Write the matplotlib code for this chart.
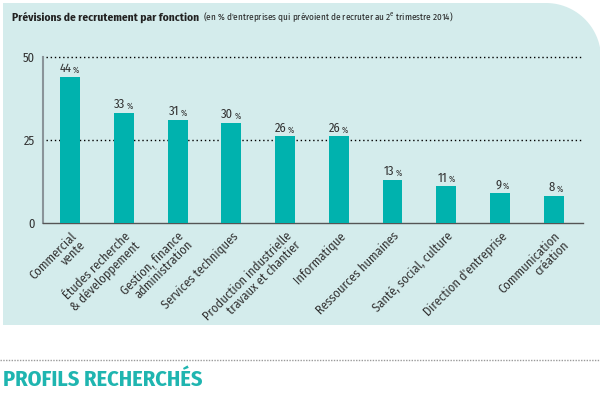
import numpy as np
import matplotlib
matplotlib.use("Agg")
import matplotlib.pyplot as plt
from matplotlib.path import Path
from matplotlib.patches import PathPatch
from matplotlib import font_manager as fm

# ---- data ----
categories = ["Commercial\nvente", "Études recherche\n& développement", "Gestion, finance\nadministration",
              "Services techniques", "Production industrielle\ntravaux et chantier", "Informatique",
              "Ressources humaines", "Santé, social, culture", "Direction d'entreprise",
              "Communication\ncréation"]
values = [44, 33, 31, 30, 26, 26, 13, 11, 9, 8]
yticks = [0, 25, 50]

names = {f.name for f in fm.fontManager.ttflist}
FONT = "Fira Sans Condensed" if "Fira Sans Condensed" in names else "DejaVu Sans"
plt.rcParams['font.family'] = [FONT, 'DejaVu Sans']
plt.rcParams['mathtext.fontset'] = 'custom'
plt.rcParams['mathtext.rm'] = FONT

W, H = 600, 395
fig = plt.figure(figsize=(W / 100, H / 100), dpi=100)
fig.patch.set_facecolor("white")

PANEL = "#d4ecec"
BAR = "#00b2ae"
TXT = "#333333"

# background panel with rounded top-right corner (pixel coords -> figure fraction)
r = 55
x0, x1, ytop, ybot = 3, 601, 3, 325
theta = np.linspace(np.pi / 2, 0, 30)
cx, cy = x1 - r, ytop + r
arc = [(cx + r * np.cos(t), cy - r * np.sin(t)) for t in theta]
pts = [(x0, ybot), (x0, ytop)] + arc + [(x1, ybot), (x0, ybot)]
pts = [(px / W, 1 - py / H) for px, py in pts]
codes = [Path.MOVETO] + [Path.LINETO] * (len(pts) - 2) + [Path.CLOSEPOLY]
fig.patches.append(PathPatch(Path(pts, codes), transform=fig.transFigure,
                             facecolor=PANEL, edgecolor="none", zorder=-5))

# axes
left, right, top, bottom = 43, 583, 56.7, 222.7
ax = fig.add_axes([left / W, 1 - bottom / H, (right - left) / W, (bottom - top) / H])
ax.set_facecolor("none")
ax.set_zorder(2)
x = np.arange(len(values))
ax.bar(x, values, width=0.37, color=BAR, zorder=3)
ax.set_xlim(-0.506, 9.545)
ax.set_ylim(0, 50)

for yv in yticks[1:]:
    ax.axhline(yv, color="black", lw=1.0, ls=(0, (1, 2)), zorder=2, clip_on=False,
               xmin=0.005, xmax=1)

ax.set_yticks(yticks)
ax.set_yticklabels([str(v) for v in yticks], fontsize=9, color=TXT)
ax.tick_params(axis="y", length=0, pad=6)
ax.set_xticks(x)
ax.set_xticklabels(categories, rotation=45, ha="right", rotation_mode="anchor",
                   fontsize=9, color=TXT, linespacing=1.0)
ax.tick_params(axis="x", length=0, pad=5)
for s in ["top", "right"]:
    ax.spines[s].set_visible(False)
ax.spines["left"].set_color("#8a9499")
ax.spines["left"].set_linewidth(1.5)
ax.spines["bottom"].set_color("#555555")
ax.spines["bottom"].set_linewidth(1.0)

for xi, v in zip(x, values):
    ax.annotate(str(v), (xi, v), xytext=(1.0, 1.5), textcoords="offset points",
                ha="right", va="bottom", fontsize=9, color=TXT)
    ax.annotate("%", (xi, v), xytext=(2.0, 1.5), textcoords="offset points",
                ha="left", va="bottom", fontsize=6, color=TXT)

# title
t1 = fig.text(12 / W, 1 - 17 / H, "Prévisions de recrutement par fonction", fontsize=8.2,
              fontweight="bold", color="#222222", va="center", ha="left")
fig.canvas.draw()
bb = t1.get_window_extent(renderer=fig.canvas.get_renderer())
fig.text((bb.x1 + 4) / W, 1 - 17 / H,
         "(en % d'entreprises qui prévoient de recruter au 2$^{\\mathrm{e}}$ trimestre 2014)",
         fontsize=6.6, color="#222222", va="center", ha="left")

# bottom separator and heading
fig.add_artist(plt.Line2D([0, 1], [1 - 360 / H, 1 - 360 / H], transform=fig.transFigure,
                          color="#9a9a9a", lw=1.0, ls=(0, (1, 1))))
fig.text(3 / W, 1 - 380 / H, "PROFILS RECHERCHÉS", fontsize=16, fontweight="bold",
         color="#1fb5b0", va="center", ha="left")

fig.savefig("out.png", dpi=100, facecolor="white")
